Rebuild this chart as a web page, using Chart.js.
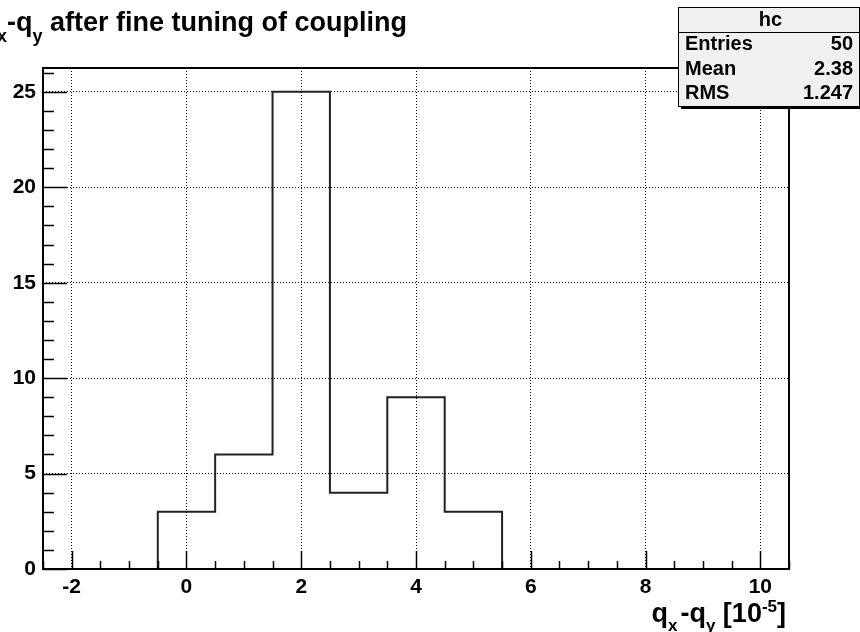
<!DOCTYPE html>
<html>
<head>
<meta charset="utf-8">
<script src="https://cdn.jsdelivr.net/npm/chart.js@4.4.1/dist/chart.umd.min.js"></script>
<style>
  html, body { margin: 0; padding: 0; background: #ffffff; }
  #wrap { width: 860px; height: 632px; }
</style>
</head>
<body>
<div id="wrap"><canvas id="hist" width="860" height="632"></canvas></div>
<script>
// histogram hc: q_x - q_y after fine tuning of coupling
const binEdges = [-0.5, 0.5, 1.5, 2.5, 3.5, 4.5, 5.5];
const counts = [3, 6, 25, 4, 9, 3];
const xTicks = [-2, 0, 2, 4, 6, 8, 10];
const yTicks = [0, 5, 10, 15, 20, 25];
const statsName = "hc";
const statsLabels = ["Entries", "Mean", "RMS"];
const statsValues = ["50", "2.38", "1.247"];

const FONT = "'Liberation Sans', Arial, sans-serif";

// outline of the histogram as corner points
function stepPoints() {
  let pts = [{ x: binEdges[0], y: 0 }];
  counts.forEach((c, i) => {
    pts.push({ x: binEdges[i], y: c });
    pts.push({ x: binEdges[i + 1], y: c });
  });
  pts.push({ x: binEdges[binEdges.length - 1], y: 0 });
  return pts;
}

// draws a run of text pieces, main / sub / sup
function drawPieces(ctx, pieces, x, y, mainSize, smallSize, align) {
  let widths = pieces.map((p) => {
    ctx.font = "bold " + (p.k === "m" ? mainSize : smallSize) + "px " + FONT;
    return ctx.measureText(p.t).width + (p.gap || 0);
  });
  let total = widths.reduce((a, b) => a + b, 0);
  let cx = align === "right" ? x - total : x;
  ctx.textAlign = "left";
  ctx.textBaseline = "alphabetic";
  pieces.forEach((p, i) => {
    ctx.font = "bold " + (p.k === "m" ? mainSize : smallSize) + "px " + FONT;
    let dy = p.k === "sub" ? p.dy || 10 : p.k === "sup" ? -(p.dy || 9) : 0;
    ctx.fillText(p.t, cx, y + dy);
    cx += widths[i];
  });
}

const rootLook = {
  id: "rootLook",
  afterDraw(chart) {
    const ctx = chart.ctx;
    const xs = chart.scales.x;
    const ys = chart.scales.y;
    const a = chart.chartArea;
    ctx.save();
    ctx.strokeStyle = "#000";
    ctx.lineWidth = 2;

    // frame
    ctx.strokeRect(a.left, a.top, a.right - a.left, a.bottom - a.top);

    // x ticks, inside
    ctx.lineWidth = 1.5;
    ctx.beginPath();
    for (let v = -2.5; v <= 10.5; v += 0.5) {
      let px = Math.round(xs.getPixelForValue(v)) + 0.5;
      let len = Number.isInteger(v) && v % 2 === 0 ? 18 : 8;
      ctx.moveTo(px, a.bottom);
      ctx.lineTo(px, a.bottom - len);
    }
    // y ticks, inside
    for (let v = 0; v <= 26; v += 1) {
      let py = Math.round(ys.getPixelForValue(v)) + 0.5;
      let len = v % 5 === 0 ? 24 : 11;
      ctx.moveTo(a.left, py);
      ctx.lineTo(a.left + len, py);
    }
    ctx.stroke();

    // title
    ctx.fillStyle = "#000";
    const titleTail = " after fine tuning of coupling";
    ctx.font = "bold 27px " + FONT;
    let tailW = ctx.measureText(titleTail).width;
    let titlePieces = [
      { t: "q", k: "m" },
      { t: "x", k: "sub", dy: 11 },
      { t: "-q", k: "m" },
      { t: "y", k: "sub", dy: 11 },
      { t: titleTail, k: "m" },
    ];
    drawPieces(ctx, titlePieces, 50 + tailW - 7.5, 31, 27, 18, "right");

    // x axis title
    let axisPieces = [
      { t: "q", k: "m" },
      { t: "x", k: "sub", dy: 9, gap: 3 },
      { t: "-q", k: "m" },
      { t: "y", k: "sub", dy: 9 },
      { t: " [10", k: "m" },
      { t: "-5", k: "sup", dy: 10 },
      { t: "]", k: "m" },
    ];
    drawPieces(ctx, axisPieces, 786, 622, 27, 17, "right");

    // stats box
    const bx = 678, by = 7, bw = 181, bh = 99;
    ctx.fillStyle = "#000";
    ctx.fillRect(bx + 3, by + 3, bw, bh);
    ctx.fillStyle = "#f0f0f0";
    ctx.fillRect(bx, by, bw, bh);
    ctx.lineWidth = 1;
    ctx.strokeStyle = "#000";
    ctx.strokeRect(bx + 0.5, by + 0.5, bw, bh);
    ctx.beginPath();
    ctx.moveTo(bx, by + 25.5);
    ctx.lineTo(bx + bw, by + 25.5);
    ctx.stroke();

    ctx.fillStyle = "#000";
    ctx.font = "bold 20px " + FONT;
    ctx.textBaseline = "middle";
    ctx.textAlign = "center";
    ctx.fillText(statsName, bx + bw / 2 + 2, by + 13);
    statsLabels.forEach((lab, i) => {
      let ry = by + 25 + 12.5 + i * 24.5;
      ctx.textAlign = "left";
      ctx.fillText(lab, 685, ry);
      ctx.textAlign = "right";
      ctx.fillText(statsValues[i], 853, ry);
    });
    ctx.restore();
  },
};

const chart = new Chart(document.getElementById("hist"), {
  type: "line",
  data: {
    datasets: [
      {
        label: "hc",
        data: stepPoints(),
        borderColor: "#222",
        borderWidth: 2,
        pointRadius: 0,
        fill: false,
        tension: 0,
      },
    ],
  },
  options: {
    responsive: false,
    animation: false,
    layout: { padding: { top: 68, right: 71, left: 0, bottom: 0 } },
    plugins: {
      legend: { display: false },
      tooltip: { enabled: false },
      title: { display: false },
    },
    scales: {
      x: {
        type: "linear",
        min: -2.5,
        max: 10.5,
        afterBuildTicks: (s) => {
          s.ticks = xTicks.map((v) => ({ value: v }));
        },
        afterFit: (s) => {
          s.height = 63;
        },
        ticks: {
          color: "#000",
          font: { family: FONT, size: 21, weight: "bold" },
          padding: 6,
          maxRotation: 0,
          autoSkip: false,
        },
        grid: {
          color: "#000",
          lineWidth: 1,
          drawTicks: false,
        },
        border: { display: false, dash: [1, 2] },
      },
      y: {
        type: "linear",
        min: 0,
        max: 26.25,
        afterBuildTicks: (s) => {
          s.ticks = yTicks.map((v) => ({ value: v }));
        },
        afterFit: (s) => {
          s.width = 43;
        },
        ticks: {
          color: "#000",
          font: { family: FONT, size: 21, weight: "bold" },
          padding: 7,
          autoSkip: false,
        },
        grid: {
          color: (c) => (c.tick && c.tick.value === 0 ? "rgba(0,0,0,0)" : "#000"),
          lineWidth: 1,
          drawTicks: false,
        },
        border: { display: false, dash: [1, 2] },
      },
    },
  },
  plugins: [rootLook],
});
</script>
</body>
</html>
